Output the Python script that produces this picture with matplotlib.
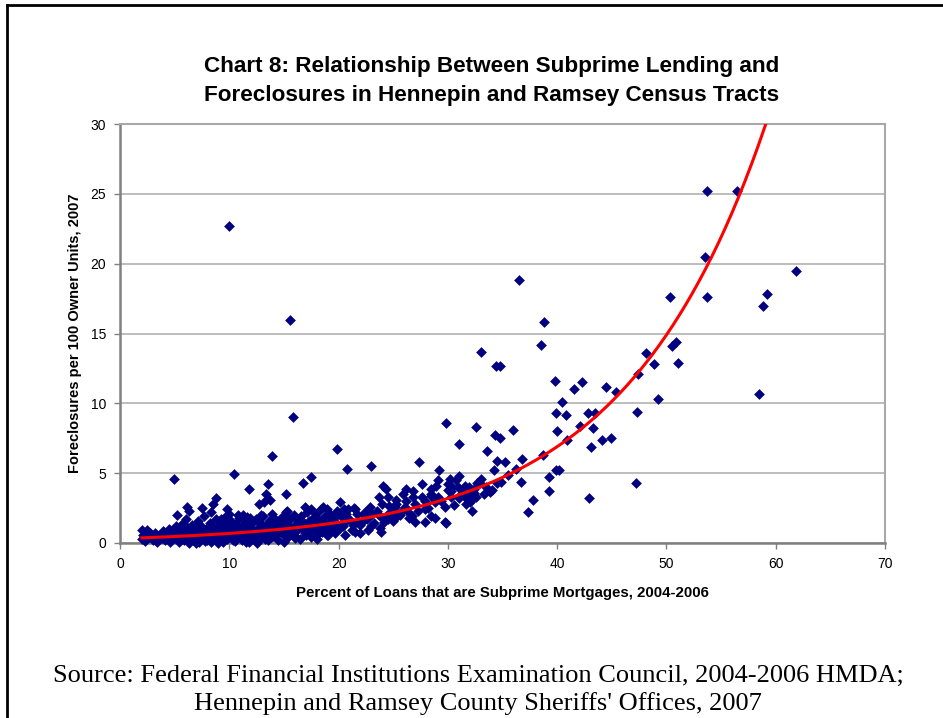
import numpy as np
import matplotlib
matplotlib.use('Agg')
import matplotlib.pyplot as plt
from matplotlib.lines import Line2D

# scattered tracts
x_spread = [9.97, 15.6, 15.8, 13.9, 10.4, 4.9, 19.9, 17.5, 20.8, 23.0, 27.4, 29.8, 31.0,
            33.0, 34.4, 36.5, 36.0, 38.8, 38.5, 39.8, 42.3, 41.5, 44.5, 45.4, 40.4, 49.2,
            58.5, 39.9, 40.8, 42.8, 43.5, 47.3, 42.1, 43.3, 40.0, 34.8, 44.1, 44.9, 40.9,
            43.1, 38.7, 36.8, 35.2, 40.2, 39.3, 36.7, 34.9, 47.2, 39.3, 37.8, 42.9,
            53.7, 56.5, 53.5, 61.9, 50.3, 53.7, 59.2, 58.8, 50.9, 50.5, 48.1, 48.9, 51.1,
            47.4, 34.8, 32.6, 34.3, 33.6, 34.5, 29.2, 34.2, 39.9, 30.2, 30.7, 28.9, 30.4,
            30.9, 31.9, 32.7, 32.9, 34.5, 28.5, 30.0, 30.3, 29.1, 31.0, 31.6, 32.1, 32.4,
            32.6, 33.3, 33.9, 31.7, 32.0, 32.2, 37.3, 28.8, 29.7, 29.8,
            24.1, 24.3, 26.2, 23.7, 25.3, 26.2, 26.8, 27.6, 28.5, 24.6, 25.2, 25.7, 20.1,
            20.9, 21.4, 20.5, 18.9, 21.7, 22.4, 23.1, 23.6, 24.4, 26.2, 26.4, 26.7, 27.9,
            28.5, 27.0, 27.9, 19.4, 20.1, 20.6, 21.3, 22.1, 21.5, 20.6, 23.0, 23.8, 23.9,
            22.7, 24.5, 25.0, 25.3, 22.0,
            13.5, 11.8, 15.2, 16.7, 13.4, 13.7, 12.7, 13.2, 8.5, 8.8, 7.5, 6.1, 6.3, 5.2,
            6.0, 9.8, 10.0, 11.3, 11.6, 15.2, 15.4, 16.9, 17.5, 18.6, 7.0, 2.0, 3.9, 2.7]
y_spread = [22.7, 16.0, 9.0, 6.2, 4.96, 4.6, 6.7, 4.7, 5.3, 5.5, 5.8, 8.6, 7.1,
            13.7, 12.7, 18.8, 8.1, 15.8, 14.2, 11.6, 11.5, 11.0, 11.2, 10.8, 10.1, 10.3,
            10.7, 9.3, 9.2, 9.3, 9.3, 9.4, 8.4, 8.2, 8.0, 7.5, 7.4, 7.5, 7.4,
            6.9, 6.3, 6.0, 5.8, 5.2, 4.7, 4.4, 4.4, 4.3, 3.7, 3.1, 3.2,
            25.2, 25.2, 20.5, 19.5, 17.6, 17.6, 17.8, 17.0, 14.4, 14.1, 13.6, 12.8, 12.9,
            12.1, 12.7, 8.3, 7.7, 6.6, 5.9, 5.2, 5.2, 5.2, 4.6, 4.5, 4.1, 4.0,
            4.0, 4.0, 4.3, 4.3, 4.3, 3.5, 3.8, 3.7, 3.3, 3.2, 3.3, 3.5, 3.6,
            3.3, 3.5, 3.65, 2.8, 2.9, 2.3, 2.2, 1.8, 1.5, 1.4,
            4.1, 3.9, 3.9, 3.3, 3.1, 3.0, 3.3, 3.3, 3.4, 2.65, 2.55, 2.2, 2.9,
            2.45, 2.5, 2.4, 2.4, 2.1, 2.2, 2.05, 2.1, 2.0, 2.45, 1.8, 1.9, 2.4,
            1.9, 1.5, 1.5, 1.75, 1.1, 1.5, 1.3, 1.5, 0.8, 0.57, 1.2, 1.05, 0.8,
            0.93, 1.7, 1.75, 1.85, 0.7,
            4.2, 3.9, 3.5, 4.3, 3.5, 3.1, 2.8, 2.9, 2.8, 3.2, 2.5, 2.6, 2.3, 2.0,
            1.7, 2.4, 2.1, 2.0, 1.85, 2.2, 1.8, 2.6, 2.4, 2.55, 1.3, 0.93, 0.86, 0.7]

# dense band of low-subprime tracts
x_dense = [2.0, 2.1, 2.3, 2.5, 2.8, 3.0, 3.2, 3.4, 3.6, 3.8, 4.0, 4.1, 4.3, 4.5, 4.6, 4.8,
           5.0, 5.1, 5.2, 5.4, 5.5, 5.6, 5.8, 5.9, 6.0, 6.1, 6.2, 6.3, 6.5, 6.6, 6.7, 6.8,
           7.0, 7.1, 7.2, 7.3, 7.4, 7.5, 7.6, 7.7, 7.8, 7.9, 8.0, 8.1, 8.2, 8.3, 8.4, 8.5,
           8.6, 8.7, 8.8, 8.9, 9.0, 9.1, 9.2, 9.3, 9.4, 9.5, 9.6, 9.7, 9.8, 9.9, 10.0, 10.1,
           10.2, 10.3, 10.4, 10.5, 10.6, 10.7, 10.8, 10.9, 11.0, 11.1, 11.2, 11.3, 11.4,
           11.5, 11.6, 11.7, 11.8, 11.9, 12.0, 12.1, 12.2, 12.3, 12.4, 12.5, 12.6, 12.7,
           12.8, 12.9, 13.0, 13.1, 13.2, 13.3, 13.4, 13.5, 13.6, 13.7, 13.8, 13.9, 14.0,
           14.1, 14.2, 14.3, 14.4, 14.5, 14.6, 14.7, 14.8, 14.9, 15.0, 15.1, 15.2, 15.3,
           15.4, 15.5, 15.6, 15.7, 15.8, 15.9, 16.0, 16.1, 16.2, 16.3, 16.4, 16.5, 16.6,
           16.7, 16.8, 16.9, 17.0, 17.1, 17.2, 17.3, 17.4, 17.5, 17.6, 17.7, 17.8, 17.9,
           18.0, 18.1, 18.2, 18.3, 18.4, 18.5, 18.6, 18.7, 18.8, 18.9, 19.0, 19.1, 19.2,
           19.3, 19.4, 19.5, 19.6, 19.7, 19.8, 19.9,
           5.3, 6.4, 7.0, 7.5, 8.0, 8.5, 9.0, 9.5, 10.0, 10.5, 11.0, 11.5, 12.0, 12.5,
           13.0, 13.5, 14.0, 14.5, 15.0, 15.5, 16.0, 16.5, 17.0, 17.5, 18.0, 18.5, 19.0,
           9.2, 10.8, 11.9, 12.9, 8.3, 9.7,
           20.2, 20.4, 20.7, 21.0, 21.2, 21.5, 21.8, 22.0, 22.3, 22.6, 22.9, 23.2, 23.5,
           23.8, 24.0, 24.2, 24.5, 24.8, 25.0, 25.3, 25.6, 25.9, 26.1, 26.5, 26.8, 27.0,
           27.3, 27.6, 27.9, 28.2, 28.5, 28.8, 29.1, 29.4, 29.7, 30.0, 30.3, 30.6, 31.0,
           31.3, 31.6, 32.0, 32.4, 33.0, 33.5, 34.0, 35.5, 36.2]
y_dense = [0.3, 0.6, 0.15, 0.9, 0.4, 0.25, 0.7, 0.1, 0.5, 0.35, 0.8, 0.2, 0.55, 1.0, 0.1, 0.4,
           0.7, 1.2, 0.3, 0.05, 0.9, 0.5, 1.4, 0.2, 0.75, 1.1, 0.4, 0.0, 0.6, 1.3, 0.25, 0.9,
           0.5, 1.6, 0.1, 0.8, 1.2, 0.35, 0.6, 1.9, 0.15, 1.0, 0.45, 0.7, 1.4, 0.05, 0.9, 0.3,
           1.1, 0.6, 1.7, 0.2, 0.8, 1.3, 0.4, 0.95, 0.1, 1.5, 0.65, 1.0, 0.3, 1.2, 0.55, 0.85,
           1.6, 0.2, 1.05, 0.7, 1.35, 0.4, 0.9, 1.8, 0.6, 1.15, 0.25, 0.95, 1.5,
           0.5, 0.75, 1.25, 0.1, 1.0, 0.65, 1.45, 0.35, 0.85, 1.7, 0.5, 1.1, 0.2,
           0.95, 1.35, 0.6, 1.9, 0.8, 0.3, 1.2, 0.7, 1.55, 1.0, 0.45, 2.1, 0.9,
           1.3, 0.55, 1.65, 1.05, 0.25, 1.4, 0.8, 1.85, 1.15, 0.6, 1.5, 0.95, 2.3,
           0.4, 1.25, 1.7, 0.75, 1.05, 2.0, 0.5, 1.35, 0.9, 1.6, 1.15, 0.3, 1.9,
           1.0, 1.45, 0.7, 1.2, 2.2, 0.85, 1.55, 1.05, 0.45, 1.75, 1.3, 0.95, 2.05,
           1.4, 0.65, 1.65, 1.1, 2.4, 0.8, 1.5, 1.25, 1.9, 0.55, 1.35, 1.0, 2.1,
           1.6, 0.9, 1.2, 1.8, 0.7, 1.45, 2.3,
           0.6, 0.9, 0.0, 1.0, 0.2, 0.65, 0.0, 0.45, 1.3, 0.15, 1.0, 0.05, 0.9, 0.0,
           1.3, 0.2, 0.5, 1.0, 0.1, 0.7, 0.35, 1.3, 0.6, 0.9, 0.3, 1.0, 0.6,
           1.7, 2.0, 1.8, 2.0, 2.2, 1.9,
           1.9, 1.2, 2.1, 1.7, 0.9, 2.4, 1.6, 1.3, 2.0, 1.75, 2.6, 1.4, 2.3,
           1.9, 2.8, 1.5, 3.3, 2.2, 1.6, 2.8, 2.0, 3.5, 2.6, 2.1, 3.7, 2.8,
           2.3, 4.2, 3.0, 2.5, 3.9, 2.9, 4.5, 3.0, 2.6, 4.2, 3.3, 2.7, 4.8,
           3.6, 4.1, 3.0, 3.9, 4.6, 4.0, 3.8, 4.9, 5.3]

x_all = x_spread + x_dense
y_all = y_spread + y_dense

# exponential trendline: y = a * exp(b x)
trend_a = 0.317
trend_b = 0.077

title = 'Chart 8: Relationship Between Subprime Lending and\nForeclosures in Hennepin and Ramsey Census Tracts'
xlabel = 'Percent of Loans that are Subprime Mortgages, 2004-2006'
ylabel = 'Foreclosures per 100 Owner Units, 2007'
source = "Source: Federal Financial Institutions Examination Council, 2004-2006 HMDA;\nHennepin and Ramsey County Sheriffs' Offices, 2007"

sans = ['Liberation Sans', 'DejaVu Sans']
serif = ['Liberation Serif', 'DejaVu Serif']

fig = plt.figure(figsize=(9.43, 7.18), dpi=100)
ax = fig.add_axes([120/943, 1-543/718, 765/943, 419/718])

ax.scatter(x_all, y_all, marker='D', s=30, color='#000080', linewidths=0, zorder=3, clip_on=False)

xt = np.linspace(2, 62, 300)
ax.plot(xt, trend_a*np.exp(trend_b*xt), color='#ff0000', lw=2.2, zorder=4)

ax.set_xlim(0, 70)
ax.set_ylim(0, 30)
ax.set_xticks(range(0, 71, 10))
ax.set_yticks(range(0, 31, 5))
ax.yaxis.grid(True, color='#b8b8b8', lw=1.3)
ax.set_axisbelow(True)
for s in ['top', 'right']:
    ax.spines[s].set_color('#a8a8a8')
    ax.spines[s].set_linewidth(1.5)
for s in ['left', 'bottom']:
    ax.spines[s].set_color('#808080')
    ax.spines[s].set_linewidth(1.8)
ax.tick_params(direction='out', length=4, width=1, color='#808080', labelsize=10, pad=6)
for lab in ax.get_xticklabels() + ax.get_yticklabels():
    lab.set_family(sans)

ax.set_xlabel(xlabel, fontsize=10.8, fontweight='bold', family=sans, labelpad=11)
ax.set_ylabel(ylabel, fontsize=10.5, fontweight='bold', family=sans, labelpad=6)

fig.text(492/943, 1-81/718, title, ha='center', va='center', fontsize=16.2, fontweight='bold',
         family=sans, linespacing=1.45)
fig.text(478/943, 1-690/718, source, ha='center', va='center', fontsize=19, family=serif,
         linespacing=1.32)

# black frame at left and top of the page
fig.add_artist(Line2D([7/943, 7/943], [0, 1-5/718], color='black', lw=2, transform=fig.transFigure))
fig.add_artist(Line2D([7/943, 1], [1-5/718, 1-5/718], color='black', lw=2, transform=fig.transFigure))

fig.savefig('out.png', dpi=100)
